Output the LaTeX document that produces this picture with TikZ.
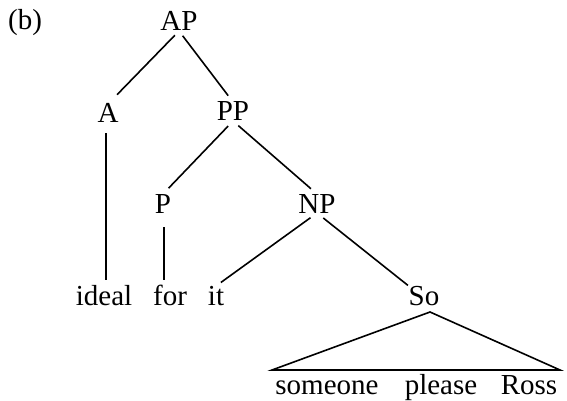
\documentclass[tikz,border=0pt]{standalone}
\usepackage{fontspec}
\setmainfont{Liberation Serif}
\begin{document}
\begin{tikzpicture}[x=1pt,y=-1pt,
  lab/.style={anchor=base,inner sep=0pt,outer sep=0pt,text height=19pt,text depth=0pt,font=\fontsize{29}{33}\selectfont},
  edge/.style={line width=1.6pt}]
\useasboundingbox (0,0) rectangle (567,401);
\node[lab] (b) at (25,30) {(b)};
\node[lab] (AP) at (179,31) {AP};
\node[lab] (A) at (108,123) {A};
\node[lab] (PP) at (233,121) {PP};
\node[lab] (P) at (163,213) {P};
\node[lab] (NP) at (317,213) {NP};
\node[lab] (ideal) at (104,305) {ideal};
\node[lab] (for) at (170,305) {for};
\node[lab] (it) at (216,305) {it};
\node[lab] (So) at (424,305) {So};
\node[lab] (someone) at (327,394) {someone};
\node[lab] (please) at (441,394) {please};
\node[lab] (Ross) at (529,394) {Ross};
\draw[edge,shorten <=6pt,shorten >=13pt] (AP.south) -- (A.north);
\draw[edge,shorten <=6pt,shorten >=8pt] (AP.south) -- (PP.north);
\draw[edge,shorten <=10pt,shorten >=6pt] ([xshift=-2pt]A.south) -- ([xshift=-2pt]A.south |- ideal.north);
\draw[edge,shorten <=7pt,shorten >=8pt] (PP.south) -- (P.north);
\draw[edge,shorten <=7pt,shorten >=8pt] (PP.south) -- (NP.north);
\draw[edge,shorten <=14pt,shorten >=6pt] ([xshift=1pt]P.south) -- ([xshift=1pt]P.south |- for.north);
\draw[edge,shorten <=8pt,shorten >=6pt] (NP.south) -- (it.north);
\draw[edge,shorten <=8pt,shorten >=1pt] (NP.south) -- (So.north west);
\coordinate (apex) at (430,312);
\coordinate (bl) at (272,370);
\coordinate (br) at (560,370);
\draw[edge,line join=miter] (apex) -- (bl) -- (br) -- cycle;
\end{tikzpicture}
\end{document}
